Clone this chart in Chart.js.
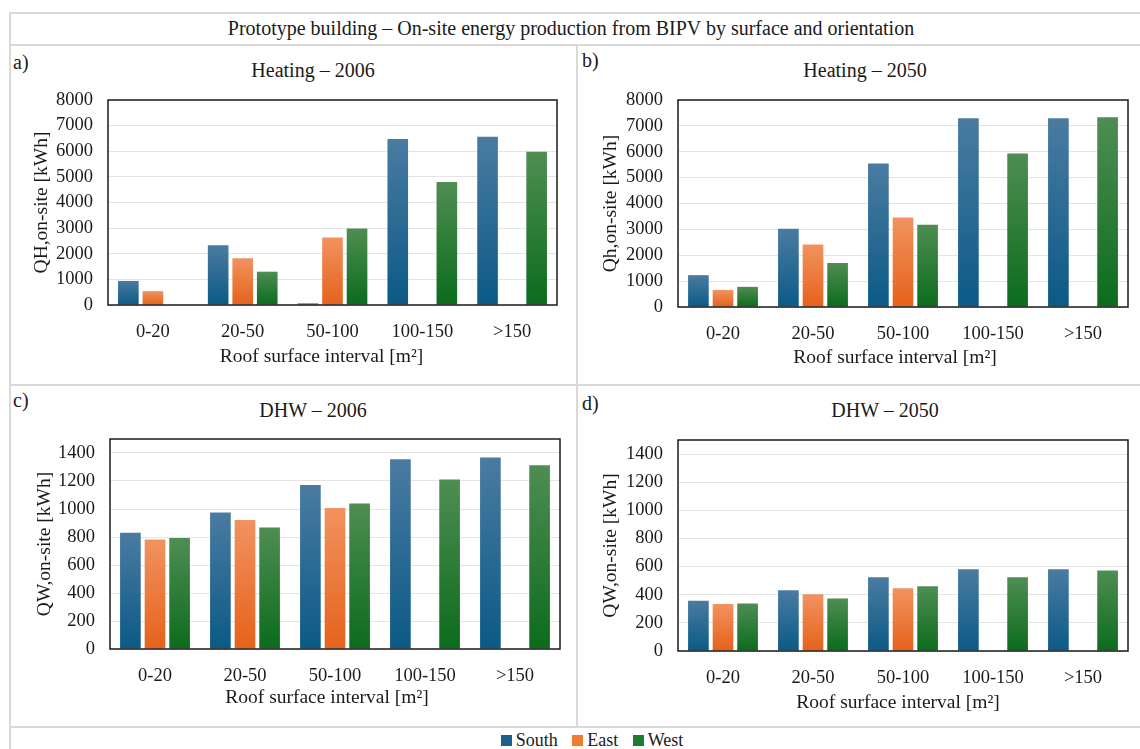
<!DOCTYPE html>
<html>
<head>
<meta charset="utf-8">
<script src="https://cdn.jsdelivr.net/npm/chart.js@4/dist/chart.umd.min.js"></script>
<style>
  body { margin:0; background:#fff; width:1140px; height:749px; overflow:hidden; position:relative;
         font-family:"Liberation Serif","Times New Roman",serif; color:#1a1a1a; }
  .ln { position:absolute; background:#d9d9d9; }
  .txt { position:absolute; white-space:nowrap; font-size:20px; line-height:22px; }
  canvas { position:absolute; }
  .leg { position:absolute; left:0; width:1184px; top:730px; text-align:center; font-size:18px; line-height:21px; }
  .leg span.sw { display:inline-block; width:11px; height:11px; margin-right:4px; vertical-align:0px; }
  .leg span.it { margin:0 5px; }
</style>
</head>
<body>
<!-- frame -->
<div class="ln" style="left:9px;top:12px;width:1131px;height:2px"></div>
<div class="ln" style="left:9px;top:44px;width:1131px;height:2px"></div>
<div class="ln" style="left:9px;top:12px;width:2px;height:737px"></div>
<div class="ln" style="left:576px;top:45px;width:2px;height:682px"></div>
<div class="ln" style="left:9px;top:384px;width:1131px;height:2px"></div>
<div class="ln" style="left:9px;top:726px;width:1131px;height:2px"></div>

<div class="txt" style="left:0;width:1142px;text-align:center;top:17px;font-size:20px">Prototype building – On-site energy production from BIPV by surface and orientation</div>

<div class="txt" style="left:13px;top:51px">a)</div>
<div class="txt" style="left:582px;top:49px">b)</div>
<div class="txt" style="left:13px;top:389px">c)</div>
<div class="txt" style="left:582px;top:392px">d)</div>

<div class="txt" style="left:213px;width:200px;text-align:center;top:59px">Heating – 2006</div>
<div class="txt" style="left:765px;width:200px;text-align:center;top:59px">Heating – 2050</div>
<div class="txt" style="left:213px;width:200px;text-align:center;top:399px">DHW – 2006</div>
<div class="txt" style="left:785px;width:200px;text-align:center;top:399px">DHW – 2050</div>

<canvas id="ca" width="565" height="295" style="left:10px;top:85px"></canvas>
<canvas id="cb" width="560" height="295" style="left:578px;top:85px"></canvas>
<canvas id="cc" width="565" height="295" style="left:10px;top:425px"></canvas>
<canvas id="cd" width="560" height="300" style="left:578px;top:425px"></canvas>

<div class="leg">
  <span class="it"><span class="sw" style="background:#1f5f8b"></span>South</span>
  <span class="it"><span class="sw" style="background:#ed7d31"></span>East</span>
  <span class="it"><span class="sw" style="background:#1e7b34"></span>West</span>
</div>

<script>
// Roof surface intervals
const intervals = ['0-20', '20-50', '50-100', '100-150', '>150'];
const orientations = ['South', 'East', 'West'];

// Heating – 2006 [kWh]
const heating2006South = [940, 2330, 65, 6480, 6570];
const heating2006East  = [540, 1820, 2630, 0, 0];
const heating2006West  = [0, 1300, 2990, 4800, 5980];

// Heating – 2050 [kWh]
const heating2050South = [1230, 3020, 5550, 7290, 7290];
const heating2050East  = [660, 2420, 3460, 0, 0];
const heating2050West  = [780, 1700, 3180, 5930, 7330];

// DHW – 2006 [kWh]
const dhw2006South = [830, 975, 1172, 1355, 1367];
const dhw2006East  = [783, 921, 1008, 0, 0];
const dhw2006West  = [793, 868, 1039, 1210, 1312];

// DHW – 2050 [kWh]
const dhw2050South = [358, 432, 524, 581, 581];
const dhw2050East  = [335, 403, 446, 0, 0];
const dhw2050West  = [337, 373, 460, 524, 572];

// Y tick values
const heatingTicks = [0, 1000, 2000, 3000, 4000, 5000, 6000, 7000, 8000];
const dhwTicks = [0, 200, 400, 600, 800, 1000, 1200, 1400];

const xCaption = 'Roof surface interval [m²]';

const shades = {
  South: ['#4a7ba1', '#0b5a86'],
  East:  ['#f2925f', '#e5621b'],
  West:  ['#4f8d53', '#0b6c1c']
};

const FONT = '"Liberation Serif","Times New Roman",serif';

function barFill(name) {
  return (ctx) => {
    const [top, bottom] = shades[name];
    const chart = ctx.chart;
    const y = chart.scales && chart.scales.y;
    if (!chart.chartArea || !y || ctx.type !== 'data') return bottom;
    const y1 = y.getPixelForValue(ctx.raw || 0);
    const y0 = y.getPixelForValue(0);
    if (!isFinite(y1) || Math.abs(y0 - y1) < 1) return bottom;
    const g = chart.ctx.createLinearGradient(0, y1, 0, y0);
    g.addColorStop(0, top);
    g.addColorStop(1, bottom);
    return g;
  };
}

// black frame round the plot area
const frameBox = {
  id: 'frameBox',
  afterDatasetsDraw(chart) {
    const { ctx, chartArea: a } = chart;
    ctx.save();
    ctx.strokeStyle = '#1a1a1a';
    ctx.lineWidth = 1.5;
    ctx.strokeRect(a.left, a.top, a.right - a.left, a.bottom - a.top);
    ctx.restore();
  }
};

// x-axis caption, set slightly left of the plot centre
const xAxisCaption = {
  id: 'xAxisCaption',
  afterDraw(chart, args, opts) {
    const { ctx, chartArea: a } = chart;
    ctx.save();
    ctx.font = `${opts.size}px ${FONT}`;
    ctx.fillStyle = '#1a1a1a';
    ctx.textAlign = 'center';
    ctx.textBaseline = 'middle';
    ctx.fillText(opts.text, (a.left + a.right) / 2 + opts.dx, a.bottom + opts.dy);
    ctx.restore();
  }
};

function makePanel(id, canvasRect, box, series, tickValues, yMax, yTitle, yTitleX, xTitleDy, xTitleDx) {
  const cw = canvasRect.w, ch = canvasRect.h;
  const yAxisW = box.l - canvasRect.x;
  const xAxisH = canvasRect.y + ch - box.b;
  const tickFont = 18.5, titleFont = 19.5;
  new Chart(document.getElementById(id), {
    type: 'bar',
    data: {
      labels: intervals,
      datasets: orientations.map((name, i) => ({
        label: name,
        data: series[i],
        backgroundColor: barFill(name),
        borderWidth: 0,
        categoryPercentage: 0.82,
        barPercentage: 0.84
      }))
    },
    options: {
      responsive: false,
      animation: false,
      layout: { padding: { left: 0, top: box.t - canvasRect.y, right: canvasRect.x + cw - box.r, bottom: 0 } },
      plugins: {
        legend: { display: false },
        tooltip: { enabled: false },
        xAxisCaption: { text: xCaption, size: titleFont, dx: xTitleDx, dy: xTitleDy }
      },
      scales: {
        x: {
          grid: { display: false, drawTicks: false },
          border: { display: false },
          ticks: { color: '#1a1a1a', font: { family: FONT, size: tickFont }, padding: 16, maxRotation: 0 },
          title: { display: false },
          afterFit(s) { s.height = xAxisH; s.paddingLeft = 0; s.paddingRight = 0; }
        },
        y: {
          min: 0, max: yMax,
          afterBuildTicks(s) { s.ticks = tickValues.map(v => ({ value: v })); },
          grid: { color: '#e4e4e4', lineWidth: 1, drawTicks: false },
          border: { display: false },
          ticks: { color: '#1a1a1a', font: { family: FONT, size: tickFont }, padding: 15,
                   callback: (v) => String(v) },
          title: { display: true, text: yTitle, color: '#1a1a1a',
                   font: { family: FONT, size: titleFont }, padding: { top: yTitleX - titleFont * 0.6, bottom: 0 } },
          afterFit(s) { s.width = yAxisW; s.paddingTop = 0; s.paddingBottom = 0; }
        }
      }
    },
    plugins: [frameBox, xAxisCaption]
  });
}

makePanel('ca', { x: 10, y: 85, w: 565, h: 295 }, { l: 108, t: 100, r: 557, b: 305 },
  [heating2006South, heating2006East, heating2006West], heatingTicks, 8000, 'QH,on-site [kWh]', 32, 52, -11);
makePanel('cb', { x: 578, y: 85, w: 560, h: 295 }, { l: 678, t: 100, r: 1128, b: 307 },
  [heating2050South, heating2050East, heating2050West], heatingTicks, 8000, 'Qh,on-site [kWh]', 33, 51, -8);
makePanel('cc', { x: 10, y: 425, w: 565, h: 295 }, { l: 110, t: 439, r: 560, b: 649 },
  [dhw2006South, dhw2006East, dhw2006West], dhwTicks, 1500, 'QW,on-site [kWh]', 35, 49, -8);
makePanel('cd', { x: 578, y: 425, w: 560, h: 300 }, { l: 678, t: 440, r: 1128, b: 651 },
  [dhw2050South, dhw2050East, dhw2050West], dhwTicks, 1500, 'QW,on-site [kWh]', 33, 52, -5);
</script>
</body>
</html>
